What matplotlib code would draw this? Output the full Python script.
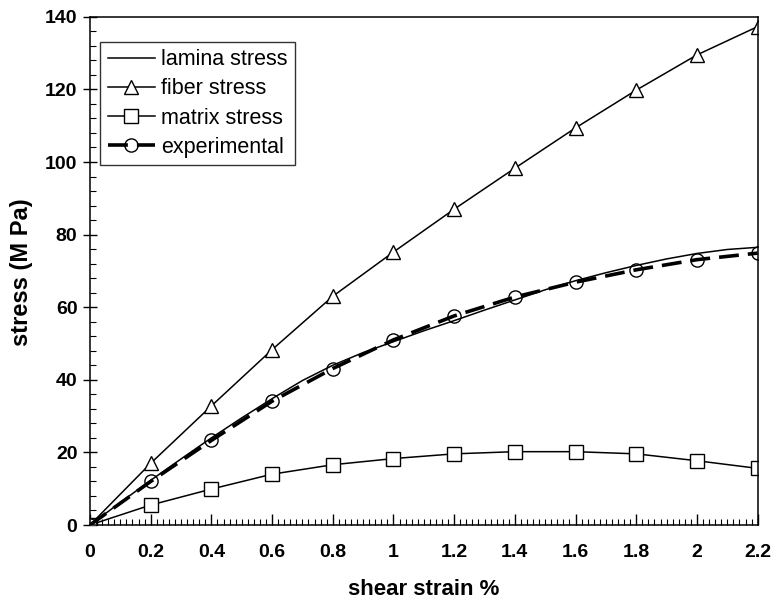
import numpy as np
import matplotlib.pyplot as plt
from matplotlib.ticker import MultipleLocator

plt.rcParams['font.family'] = ['Liberation Sans', 'DejaVu Sans']

strain = [0, 0.2, 0.4, 0.6, 0.8, 1.0, 1.2, 1.4, 1.6, 1.8, 2.0, 2.2]
fiber = [0, 17, 32.8, 48.3, 63, 75.2, 87, 98.3, 109.4, 119.8, 129.5, 137.3]
matrix = [0, 5.5, 9.9, 14, 16.6, 18.3, 19.6, 20.2, 20.2, 19.6, 17.7, 15.6]
experimental = [0, 12, 23.3, 34.1, 43.1, 51, 57.6, 62.8, 66.9, 70.3, 73.1, 74.9]

lamina_strain = [0, 0.1, 0.2, 0.3, 0.4, 0.5, 0.6, 0.7, 0.8, 0.9, 1.0, 1.1,
                 1.2, 1.3, 1.4, 1.5, 1.6, 1.7, 1.8, 1.9, 2.0, 2.1, 2.2]
lamina = [0, 6.2, 12.3, 18.2, 24, 29.5, 34.8, 39.8, 44, 47.5, 50.5, 53.5,
          56.3, 59.2, 62, 64.8, 67.3, 69.5, 71.5, 73.3, 74.8, 75.9, 76.5]

fig = plt.figure(figsize=(7.71, 6.0), dpi=100)
ax = fig.add_axes([0.1167, 0.125, 0.866, 0.847])

ax.plot(lamina_strain, lamina, color='black', lw=1.1, label='lamina stress')
ax.plot(strain, fiber, color='black', lw=1.1, marker='^', ms=9.5,
        mfc='white', mec='black', mew=1.0, label='fiber stress')
ax.plot(strain, matrix, color='black', lw=1.1, marker='s', ms=9.5,
        mfc='white', mec='black', mew=1.0, label='matrix stress')
ax.plot(strain, experimental, color='black', lw=2.6, ls=(0, (5.5, 2.5)),
        marker='o', ms=9.5, mfc='none', mec='black', mew=1.0,
        label='experimental')

ax.set_xlim(0, 2.2)
ax.set_ylim(0, 140)
ax.xaxis.set_major_locator(MultipleLocator(0.2))
ax.xaxis.set_minor_locator(MultipleLocator(0.02))
ax.yaxis.set_major_locator(MultipleLocator(20))
ax.yaxis.set_minor_locator(MultipleLocator(4))
ax.set_xticks(strain)
ax.set_xticklabels(['0', '0.2', '0.4', '0.6', '0.8', '1', '1.2', '1.4',
                    '1.6', '1.8', '2', '2.2'])

ax.tick_params(axis='x', which='major', direction='in', length=8, width=1,
               labelsize=14, pad=14)
ax.tick_params(axis='x', which='minor', direction='in', length=4, width=0.8)
ax.tick_params(axis='y', which='major', direction='inout', length=10, width=1,
               labelsize=14, pad=4)
ax.tick_params(axis='y', which='minor', direction='in', length=4, width=0.8)
for lab in ax.get_xticklabels() + ax.get_yticklabels():
    lab.set_fontweight('bold')

for sp in ax.spines.values():
    sp.set_linewidth(1.1)

ax.set_xlabel('shear strain %', fontsize=16, fontweight='bold')
ax.set_ylabel('stress (M Pa)', fontsize=17, fontweight='bold')
ax.xaxis.set_label_coords(0.5, -0.106)
ax.yaxis.set_label_coords(-0.085, 0.498)

leg = ax.legend(loc='upper left', bbox_to_anchor=(0.015, 0.951), fontsize=15.5,
                frameon=True, fancybox=False, edgecolor='black',
                handlelength=2.2, borderpad=0.35, labelspacing=0.38,
                handletextpad=0.3, borderaxespad=0)
leg.get_frame().set_linewidth(1.0)

fig.savefig('out.png', dpi=100)
